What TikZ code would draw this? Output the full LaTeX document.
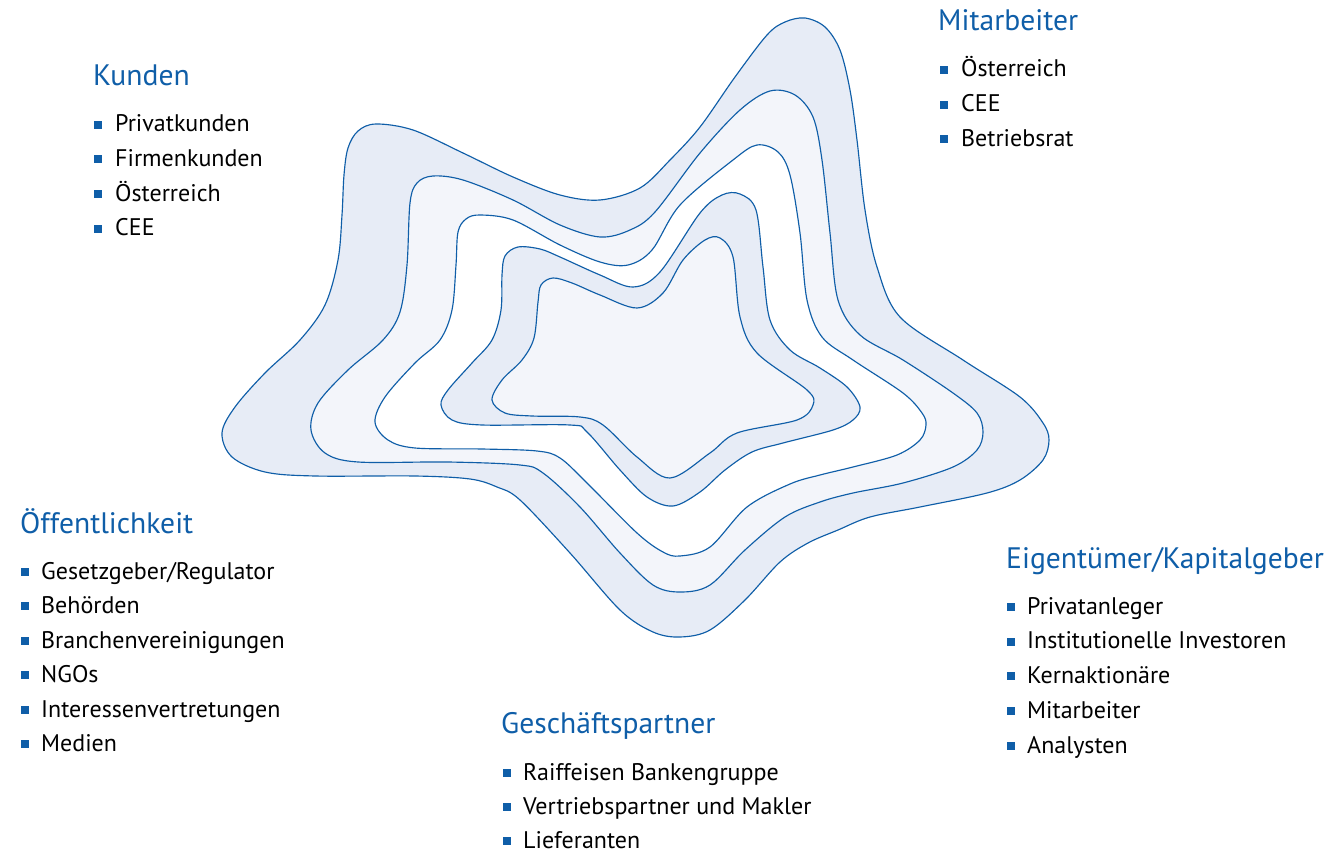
\documentclass[tikz,border=0pt]{standalone}
\usepackage{fontspec}
\setmainfont{PT Sans}
\definecolor{rzblue}{HTML}{0F5EA8}
\definecolor{bandA}{HTML}{E7ECF6}
\definecolor{bandB}{HTML}{F3F5FA}
\begin{document}
\begin{tikzpicture}[x=1pt,y=-1pt,
  contour/.style={draw=rzblue, line width=1.15pt},
  head/.style={anchor=base west, inner sep=0pt, text=rzblue, font=\fontsize{29.6}{35}\selectfont},
  item/.style={anchor=base west, inner sep=0pt, font=\fontsize{24}{28}\selectfont},
  bul/.style={fill=rzblue, minimum size=8pt, inner sep=0pt, anchor=south west}]
\useasboundingbox (0,0) rectangle (1331,853);

% nested star-shaped contours, outermost first
\filldraw[contour, fill=bandA] plot[smooth cycle, tension=0.55] coordinates {
  (348,148) (358,131) (376,124) (413,130) (463,153) (513,177) (560,195) (600,200)
  (640,188) (670,160) (700,127) (735,77) (767,35) (785,22) (805,18) (825,27)
  (840,50) (850,90) (857,140) (865,210) (877,267) (900,317) (963,360) (1020,397)
  (1043,423) (1049,440) (1043,460) (1020,480) (987,493) (920,507) (870,517)
  (838,530) (808,543) (780,562) (745,600) (710,630) (680,637) (653,632) (620,610)
  (570,553) (520,500) (497,487) (470,479) (415,476) (315,476) (265,472) (232,457)
  (222,433) (235,407) (265,373) (300,340) (325,305) (338,260) (342,215) (344,175)};
\filldraw[contour, fill=bandB] plot[smooth cycle, tension=0.55] coordinates {
  (410,203) (417,183) (433,176) (463,180) (513,200) (560,225) (600,237) (630,230)
  (655,212) (700,153) (740,110) (770,91) (795,95) (813,117) (822,160) (830,233)
  (838,300) (860,335) (903,360) (953,393) (977,413) (983,432) (977,450) (953,467)
  (903,483) (853,493) (820,502) (785,517) (745,550) (710,585) (680,592) (653,585)
  (620,553) (580,507) (543,473) (520,465) (448,462) (358,462) (325,453) (311,430)
  (318,403) (348,370) (383,340) (400,312) (407,265)};
\filldraw[contour, fill=white] plot[smooth cycle, tension=0.55] coordinates {
  (458,232) (466,219) (480,215) (513,220) (560,245) (600,262) (628,265) (652,250)
  (680,205) (733,160) (757,145) (778,152) (790,175) (800,233) (807,300) (822,337)
  (853,360) (903,393) (922,413) (926,425) (920,440) (897,455) (853,467) (820,475)
  (790,484) (747,507) (710,547) (680,556) (663,552) (637,533) (587,483) (560,458)
  (537,451) (482,449) (415,448) (388,440) (375,422) (385,397) (415,363) (440,340)
  (452,310) (456,265)};
\filldraw[contour, fill=bandA] plot[smooth cycle, tension=0.55] coordinates {
  (502,275) (505,256) (518,247) (540,249) (560,257) (600,275) (633,287) (660,272)
  (700,213) (722,195) (740,194) (756,210) (763,267) (770,320) (790,350) (820,368)
  (847,387) (860,407) (853,420) (833,430) (783,443) (752,452) (725,470) (700,492)
  (673,506) (647,497) (620,470) (587,432) (570,425) (482,425) (452,420) (441,405)
  (448,390) (472,363) (492,340) (501,310)};
\filldraw[contour, fill=bandB] plot[smooth cycle, tension=0.55] coordinates {
  (538,302) (541,285) (553,278) (572,283) (600,295) (637,308) (663,293) (683,260)
  (705,240) (720,238) (733,257) (740,317) (757,353) (807,390) (813,405) (797,420)
  (737,433) (710,453) (670,478) (637,457) (603,425) (580,417) (532,416) (505,413)
  (492,400) (502,380) (522,360) (534,338)};

% stakeholder groups
\node[head] (kunden) at (93,86) {Kunden};
\foreach \t [count=\i from 0] in {Privatkunden, Firmenkunden, Österreich, CEE} {
  \node[bul] (kb\i) at (94,129+34.6*\i) {};
  \node[item] (kt\i) at (115,132+34.6*\i) {\t};
}

\node[head] (mitarb) at (938,31) {Mitarbeiter};
\foreach \t [count=\i from 0] in {Österreich, CEE, Betriebsrat} {
  \node[bul] (mb\i) at (940,74+34.8*\i) {};
  \node[item] (mt\i) at (961,77+34.8*\i) {\t};
}

\node[head] (oeff) at (20,533) {Öffentlichkeit};
\foreach \t [count=\i from 0] in {Gesetzgeber/Regulator, Behörden, Branchenvereinigungen, NGOs, Interessenvertretungen, Medien} {
  \node[bul] (ob\i) at (21,576+34.5*\i) {};
  \node[item] (ot\i) at (41,579+34.5*\i) {\t};
}

\node[head] (eigen) at (1006,568) {Eigentümer/Kapitalgeber};
\foreach \t [count=\i from 0] in {Privatanleger, Institutionelle Investoren, Kernaktionäre, Mitarbeiter, Analysten} {
  \node[bul] (eb\i) at (1007,611+34.8*\i) {};
  \node[item] (et\i) at (1027,614+34.8*\i) {\t};
}

\node[head] (gesch) at (501,733) {Geschäftspartner};
\foreach \t [count=\i from 0] in {Raiffeisen Bankengruppe, Vertriebspartner und Makler, Lieferanten} {
  \node[bul] (gb\i) at (503,777+34.3*\i) {};
  \node[item] (gt\i) at (523,780+34.3*\i) {\t};
}
\end{tikzpicture}
\end{document}
